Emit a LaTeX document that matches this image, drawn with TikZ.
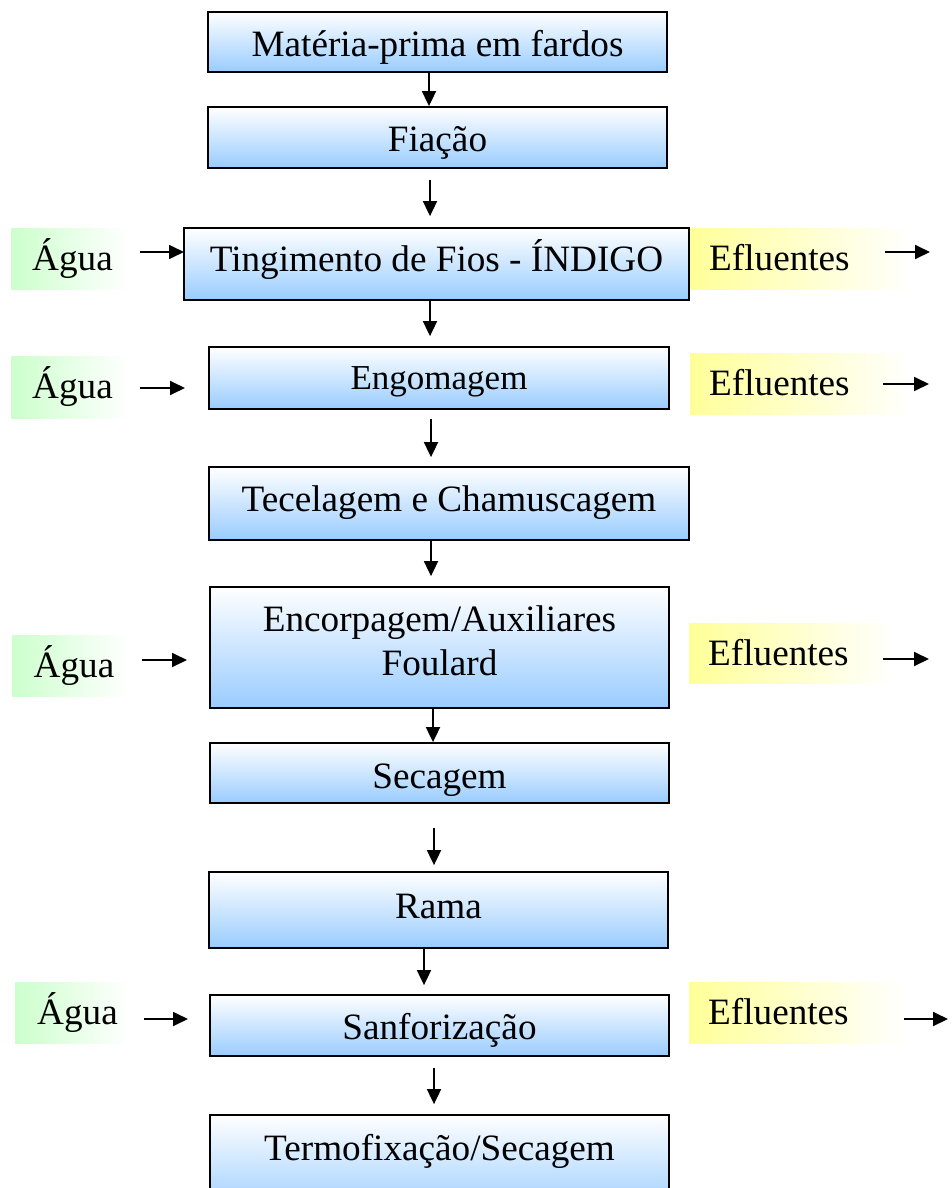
\documentclass[tikz,border=0pt]{standalone}
\usepackage{fontspec}
\setmainfont{Liberation Serif}
\usetikzlibrary{arrows.meta}
\definecolor{boxblue}{RGB}{153,204,255}
\definecolor{wgreen}{RGB}{204,255,204}
\definecolor{eyellow}{RGB}{255,255,153}
\tikzset{
 proc/.style={draw=black, line width=1.8pt, top color=white, bottom color=boxblue, inner sep=0pt},
 aguabg/.style={left color=wgreen, right color=white, inner sep=0pt, draw=none},
 eflbg/.style={left color=eyellow, right color=white, inner sep=0pt, draw=none},
 lbl/.style={font=\fontsize{37.2}{44}\selectfont, inner sep=0pt, anchor=base},
 elbl/.style={font=\fontsize{37.2}{44}\selectfont, inner sep=0pt, anchor=base west},
 flow/.style={line width=1.8pt, -{Triangle[length=15pt,width=14pt]}},
}
\begin{document}
\begin{tikzpicture}[x=1pt,y=-1pt]
\useasboundingbox (0,0) rectangle (952,1188);
\clip (0,0) rectangle (952,1188);

% process boxes
\node[proc, minimum width=459, minimum height=60] (b1) at (437.5,42) {};
\node[proc, minimum width=459, minimum height=61] (b2) at (437.5,137.5) {};
\node[proc, minimum width=505, minimum height=72] (b3) at (436.5,264) {};
\node[proc, minimum width=460, minimum height=62] (b4) at (439,378) {};
\node[proc, minimum width=480, minimum height=73] (b5) at (449,503.5) {};
\node[proc, minimum width=459, minimum height=121] (b6) at (439.5,647.5) {};
\node[proc, minimum width=459, minimum height=60] (b7) at (439.5,773) {};
\node[proc, minimum width=459, minimum height=76] (b8) at (438.5,910) {};
\node[proc, minimum width=459, minimum height=61] (b9) at (439.5,1025.5) {};
\node[proc, minimum width=459, minimum height=100] (b10) at (439.5,1165) {};

\node[lbl] (b1t) at (437.5,56.7) {Matéria-prima em fardos};
\node[lbl] (b2t) at (437.5,151.7) {Fiação};
\node[lbl] (b3t) at (436.5,271.5) {Tingimento de Fios - ÍNDIGO};
\node[lbl, font=\fontsize{35}{42}\selectfont] (b4t) at (439,389) {Engomagem};
\node[lbl] (b5t) at (449,511.7) {Tecelagem e Chamuscagem};
\node[lbl] (b6t) at (439.5,631.7) {Encorpagem/Auxiliares};
\node[lbl] (b6u) at (439.5,675) {Foulard};
\node[lbl] (b7t) at (439.5,788) {Secagem};
\node[lbl] (b8t) at (438.5,918) {Rama};
\node[lbl] (b9t) at (439.5,1039) {Sanforização};
\node[lbl] (b10t) at (439.5,1160) {Termofixação/Secagem};

% water inputs
\node[aguabg, minimum width=117, minimum height=61] (g1) at (69.5,258.5) {};
\node[aguabg, minimum width=117, minimum height=62] (g2) at (69.5,387) {};
\node[aguabg, minimum width=116, minimum height=61] (g3) at (70,665.5) {};
\node[aguabg, minimum width=113, minimum height=61] (g4) at (71.5,1012.5) {};
\node[lbl] (g1t) at (72.5,270) {Água};
\node[lbl] (g2t) at (72.5,398) {Água};
\node[lbl] (g3t) at (74,677) {Água};
\node[lbl] (g4t) at (77.5,1024) {Água};

% effluents
\node[eflbg, minimum width=222, minimum height=61] (e1) at (801,258.5) {};
\node[eflbg, minimum width=222, minimum height=61] (e2) at (801,383.5) {};
\node[eflbg, minimum width=205, minimum height=60] (e3) at (791.5,653) {};
\node[eflbg, minimum width=217, minimum height=61] (e4) at (797.5,1012.5) {};
\node[elbl] (e1t) at (709,270.5) {Efluentes};
\node[elbl] (e2t) at (709,395.7) {Efluentes};
\node[elbl] (e3t) at (708,665.7) {Efluentes};
\node[elbl] (e4t) at (708,1024) {Efluentes};

% horizontal arrows
\coordinate (wa1s) at (140,252); \coordinate (wa1e) at (184,252);
\coordinate (wa2s) at (140,388); \coordinate (wa2e) at (185,388);
\coordinate (wa3s) at (142,660); \coordinate (wa3e) at (187,660);
\coordinate (wa4s) at (144,1019); \coordinate (wa4e) at (188,1019);
\coordinate (ea1s) at (885,252); \coordinate (ea1e) at (930,252);
\coordinate (ea2s) at (883,384); \coordinate (ea2e) at (929,384);
\coordinate (ea3s) at (883,659); \coordinate (ea3e) at (929,659);
\coordinate (ea4s) at (904,1019); \coordinate (ea4e) at (948,1019);
\draw[flow] (wa1s) -- (wa1e);
\draw[flow] (wa2s) -- (wa2e);
\draw[flow] (wa3s) -- (wa3e);
\draw[flow] (wa4s) -- (wa4e);
\draw[flow] (ea1s) -- (ea1e);
\draw[flow] (ea2s) -- (ea2e);
\draw[flow] (ea3s) -- (ea3e);
\draw[flow] (ea4s) -- (ea4e);

% vertical arrow columns
\coordinate (c424) at (424,0);
\coordinate (c429) at (429,0);
\coordinate (c430) at (430,0);
\coordinate (c431) at (431,0);
\coordinate (c433) at (433,0);
\coordinate (c434) at (434,0);

\draw[flow] (b1.south -| c429) -- (b2.north -| c429);
\draw[flow, shorten <=11pt, shorten >=11pt] (b2.south -| c430) -- (b3.north -| c430);
\draw[flow, shorten >=10pt] (b3.south -| c430) -- (b4.north -| c430);
\draw[flow, shorten <=9pt, shorten >=9pt] (b4.south -| c431) -- (b5.north -| c431);
\draw[flow, shorten >=10pt] (b5.south -| c431) -- (b6.north -| c431);
\draw[flow] (b6.south -| c433) -- (b7.north -| c433);
\draw[flow, shorten <=24pt, shorten >=6pt] (b7.south -| c434) -- (b8.north -| c434);
\draw[flow, shorten >=9pt] (b8.south -| c424) -- (b9.north -| c424);
\draw[flow, shorten <=11pt, shorten >=10pt] (b9.south -| c434) -- (b10.north -| c434);
\end{tikzpicture}
\end{document}
